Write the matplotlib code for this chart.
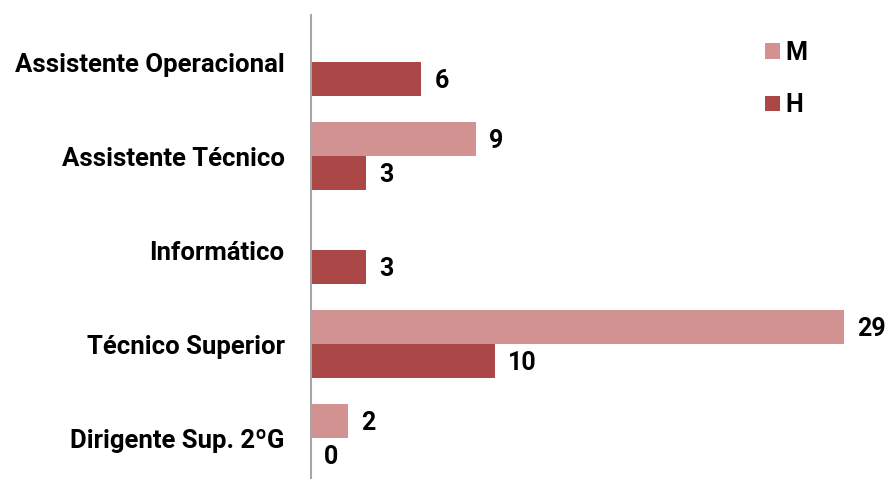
import numpy as np
import matplotlib.pyplot as plt

plt.rcParams['font.family'] = ['Roboto', 'DejaVu Sans']

categorias = ["Assistente Operacional", "Assistente Técnico", "Informático",
              "Técnico Superior", "Dirigente Sup. 2ºG"]
mulheres = [np.nan, 9, np.nan, 29, 2]
homens = [6, 3, 3, 10, 0]

cor_m = "#D39292"
cor_h = "#AB4747"

fig = plt.figure(figsize=(8.86, 4.79), dpi=100)
ax = fig.add_axes([311 / 886, 0, (881 - 311) / 886, 1 - 15 / 479])

y = np.arange(len(categorias))
h = 0.362
bm = ax.barh(y - h / 2, mulheres, height=h, color=cor_m, label="M")
bh = ax.barh(y + h / 2, homens, height=h, color=cor_h, label="H")

px = 31 / 570  # one pixel in data units
for bars, vals in ((bm, mulheres), (bh, homens)):
    for b, v in zip(bars, vals):
        if np.isnan(v):
            continue
        ax.text(v + 13 * px, b.get_y() + b.get_height() / 2 + 0.02, f"{v:g}",
                va="center", ha="left", fontsize=18, fontweight="bold")

ax.set_xlim(0, 31)
ax.set_ylim(4.436, -0.5)
ax.set_yticks(y)
ax.set_yticklabels(categorias, fontsize=18.5, fontweight="bold")
ax.set_xticks([])
ax.tick_params(axis="y", length=0, pad=19)
for s in ("top", "right", "bottom"):
    ax.spines[s].set_visible(False)
ax.spines["left"].set_color("#A6A6A6")
ax.spines["left"].set_linewidth(1.5)

leg = ax.legend(handles=[bm, bh], loc="upper left", bbox_to_anchor=(742 / 886, 1 - 18 / 479),
                bbox_transform=fig.transFigure, frameon=False, handlelength=0.6,
                handleheight=0.6, handletextpad=0.25, labelspacing=1.15,
                prop={"size": 18, "weight": "bold"})

fig.savefig("out.png", dpi=100)
